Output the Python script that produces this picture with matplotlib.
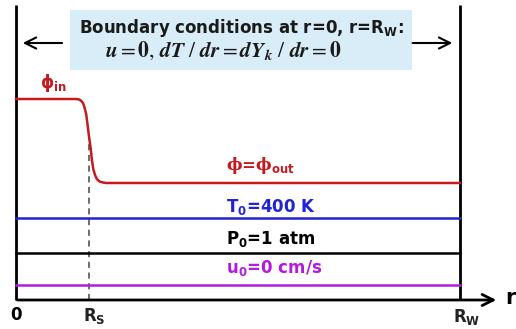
import numpy as np
import matplotlib
matplotlib.use("Agg")
import matplotlib.pyplot as plt
from matplotlib.patches import Rectangle

# schematic of the 1-D radial domain
# r is normalised so that R_W = 1, heights are in arbitrary units (axis at 0)
R_S = 0.165
R_W = 1.0
wall_top = 295

# equivalence-ratio profile (smooth step at R_S)
phi_r = [0.0, 0.135, 0.142, 0.146, 0.151, 0.154, 0.158, 0.161, 0.164, 0.168,
         0.171, 0.174, 0.178, 0.182, 0.188, 0.196, 0.203, 1.0]
phi_h = [201, 201, 200.5, 199.5, 197, 193, 186, 176, 165, 152,
         140, 131, 125, 121, 118.5, 117.5, 117, 117]

# flat initial profiles
levels = {"T": 82, "P": 47, "u": 15}
colors = {"phi": "#c41a1f", "T": "#2323d6", "P": "#000000", "u": "#b21be0"}

labels = {
    "phi_out": (r"ϕ=ϕ$_{\mathbf{out}}$", 135),
    "T": (r"T$_\mathbf{0}$=400 K", 93),
    "P": (r"P$_\mathbf{0}$=1 atm", 61),
    "u": (r"u$_\mathbf{0}$=0 cm/s", 32),
}

fig = plt.figure(figsize=(5.16, 3.29), dpi=100)
ax = fig.add_axes([0, 0, 1, 1])
ax.set_xlim(-16 / 444, 500 / 444)
ax.set_ylim(-29, 300)
ax.axis("off")

# boundary conditions box
ax.add_patch(Rectangle((0.122, 230), 0.77, 60, facecolor="#d9edf9", edgecolor="none", zorder=0))
ax.text(0.507, 272, r"Boundary conditions at r=0, r=R$_\mathbf{W}$:", ha="center", va="center",
        fontsize=12, fontweight="bold", color="#1a1a1a")
ax.text(0.466, 249, r"$\mathbfit{u} = \mathbf{0},\, \mathbfit{dT}\ /\ \mathbfit{dr} = \mathbfit{dY}_{\mathbfit{k}}\ /\ \mathbfit{dr} = \mathbf{0}$",
        ha="center", va="center", fontsize=15.5, color="#1a1a1a", math_fontfamily="stix")
ax.annotate("", xy=(0.009, 257), xytext=(0.11, 257),
            arrowprops=dict(arrowstyle="->", lw=1.5, color="black", mutation_scale=20))
ax.annotate("", xy=(0.989, 257), xytext=(0.887, 257),
            arrowprops=dict(arrowstyle="->", lw=1.5, color="black", mutation_scale=20))

# walls and r axis
ax.plot([0, 0], [0, wall_top], color="black", lw=2.0, solid_capstyle="butt")
ax.plot([R_W, R_W], [0, wall_top], color="black", lw=2.0, solid_capstyle="butt")
ax.annotate("", xy=(1.088, 0), xytext=(-0.003, 0),
            arrowprops=dict(arrowstyle="->", lw=2.0, color="black", mutation_scale=20))
ax.plot([R_S, R_S], [0, 162], color="#444444", lw=1.1, ls=(0, (4, 3)))

# profiles
ax.plot(phi_r, phi_h, color=colors["phi"], lw=1.8, solid_joinstyle="round")
for k in ["T", "P", "u"]:
    ax.plot([0, R_W], [levels[k], levels[k]], color=colors[k], lw=1.8)

# labels
ax.text(0.085, 217, r"ϕ$_{\mathbf{in}}$", ha="center", va="center", fontsize=12,
        fontweight="bold", color=colors["phi"])
ax.text(0.473, labels["phi_out"][1], labels["phi_out"][0], ha="left", va="center", fontsize=12,
        fontweight="bold", color=colors["phi"], family="DejaVu Serif")
for k in ["T", "P", "u"]:
    ax.text(0.473, labels[k][1], labels[k][0], ha="left", va="center", fontsize=12,
            fontweight="bold", color=colors[k])

ax.text(0.0, -15, "0", ha="center", va="center", fontsize=12, fontweight="bold")
ax.text(R_S + 0.012, -16, r"R$_\mathbf{S}$", ha="center", va="center", fontsize=12,
        fontweight="bold", color="#222222")
ax.text(R_W + 0.015, -17, r"R$_\mathbf{W}$", ha="center", va="center", fontsize=12,
        fontweight="bold", color="#222222")
ax.text(1.102, 2, "r", ha="left", va="center", fontsize=15, fontweight="bold")

fig.savefig("out.png", dpi=100)
plt.close("all")
